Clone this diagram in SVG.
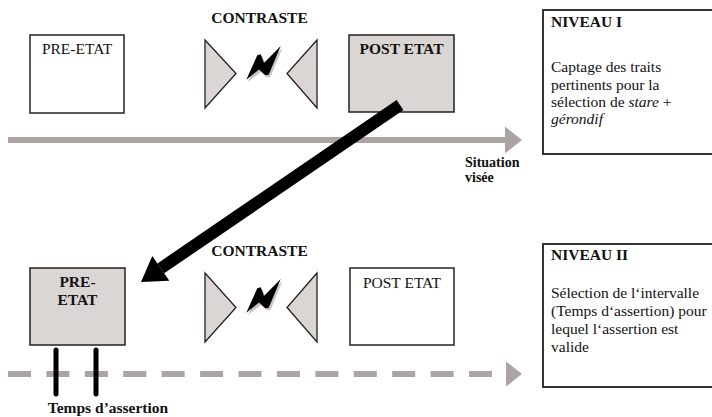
<svg xmlns="http://www.w3.org/2000/svg" width="712" height="417" viewBox="0 0 712 417" font-family="'Liberation Serif', 'Times New Roman', 'DejaVu Serif', serif">
<style>
text{font-family:'Liberation Serif','Times New Roman','DejaVu Serif',serif;fill:#111;}
.lbl{font-size:15.5px;}
.b{font-weight:bold;}
.sm{font-size:14px;font-weight:bold;}
.box{stroke:#222;stroke-width:1.5;}
.white{fill:#fff;}
.grey{fill:#dbd5d3;}
.tri{fill:#dbd5d3;stroke:#222;stroke-width:1.3;stroke-linejoin:miter;}
.niv{fill:#fff;stroke:#333;stroke-width:2;}
.gline{stroke:#aba4a2;stroke-width:6;fill:none;}
.ghead{fill:#aba4a2;}
.bar{stroke:#000;stroke-width:5;stroke-linecap:round;}
</style>
<defs>
<g id="bolt">
<polygon points="248,82 259,57 262.5,56 266,65 282.5,48 270.5,77 267,77.5 261,72" fill="#cbc5c3"/>
<polygon points="246.3,79.7 257.3,55.3 260.7,54.3 264,63 280.7,46 268.7,74.7 265.3,75.3 259,69.5" fill="#000"/>
</g>
</defs>

<g id="connectors">
<line class="gline" x1="8" y1="140" x2="507" y2="140"/>
<polygon class="ghead" points="505,126.5 522,140 505,153.5"/>
<line class="gline" x1="8" y1="374" x2="492" y2="374" stroke-dasharray="23 15.42"/>
<polygon class="ghead" points="506,361.5 522,374 506,386.5"/>
</g>

<g id="contraste-1">
<text class="lbl b" x="259.5" y="23" text-anchor="middle">CONTRASTE</text>
<polygon class="tri" points="205,40 236,73.5 205,108"/>
<polygon class="tri" points="317,40 287,73.5 317,108"/>
<use href="#bolt"/>
</g>

<g id="contraste-2">
<text class="lbl b" x="259.5" y="256" text-anchor="middle">CONTRASTE</text>
<polygon class="tri" points="205,273 236,307.5 205,342"/>
<polygon class="tri" points="317,273 287,307.5 317,342"/>
<use href="#bolt" transform="translate(0,233)"/>
</g>

<g id="pre-etat-1">
<rect class="box white" x="30" y="35" width="94" height="78"/>
<text class="lbl" x="77" y="54" text-anchor="middle">PRE-ETAT</text>
</g>

<g id="post-etat-1">
<rect class="box grey" x="349" y="35" width="105" height="77"/>
<text class="lbl b" x="401.5" y="54" text-anchor="middle">POST ETAT</text>
</g>

<g id="pre-etat-2">
<rect class="box grey" x="30" y="268" width="95" height="77"/>
<text class="lbl b" x="77.5" y="287" text-anchor="middle">PRE-</text>
<text class="lbl b" x="77.5" y="305" text-anchor="middle">ETAT</text>
</g>

<g id="post-etat-2">
<rect class="box white" x="350" y="268" width="104" height="77"/>
<text class="lbl" x="402" y="288" text-anchor="middle">POST ETAT</text>
</g>

<g id="situation">
<text class="sm" x="465" y="167">Situation</text>
<text class="sm" x="465" y="182">visée</text>
</g>

<g id="temps">
<line class="bar" x1="56" y1="350" x2="56" y2="394"/>
<line class="bar" x1="96" y1="350" x2="96" y2="394"/>
<text class="lbl b" x="108" y="413" text-anchor="middle">Temps d’assertion</text>
</g>

<g id="niveau-1">
<rect class="niv" x="543" y="10" width="172" height="144"/>
<text class="lbl b" x="551" y="27">NIVEAU I</text>
<text class="lbl" x="551" y="72">Captage des traits</text>
<text class="lbl" x="551" y="89.5">pertinents pour la</text>
<text class="lbl" x="551" y="107">sélection de <tspan font-style="italic">stare</tspan> +</text>
<text class="lbl" x="551" y="124" font-style="italic">gérondif</text>
</g>

<g id="niveau-2">
<rect class="niv" x="543" y="244" width="172" height="143"/>
<text class="lbl b" x="551" y="260">NIVEAU II</text>
<text class="lbl" x="551" y="298">Sélection de l‘intervalle</text>
<text class="lbl" x="551" y="316">(Temps d‘assertion) pour</text>
<text class="lbl" x="551" y="334">lequel l‘assertion est</text>
<text class="lbl" x="551" y="352">valide</text>
</g>

<g id="transfer-arrow">
<line x1="400" y1="105" x2="160.8" y2="268.4" stroke="#000" stroke-width="12"/>
<polygon points="141,282 152.3,256 169.3,280.8" fill="#000"/>
</g>
</svg>
